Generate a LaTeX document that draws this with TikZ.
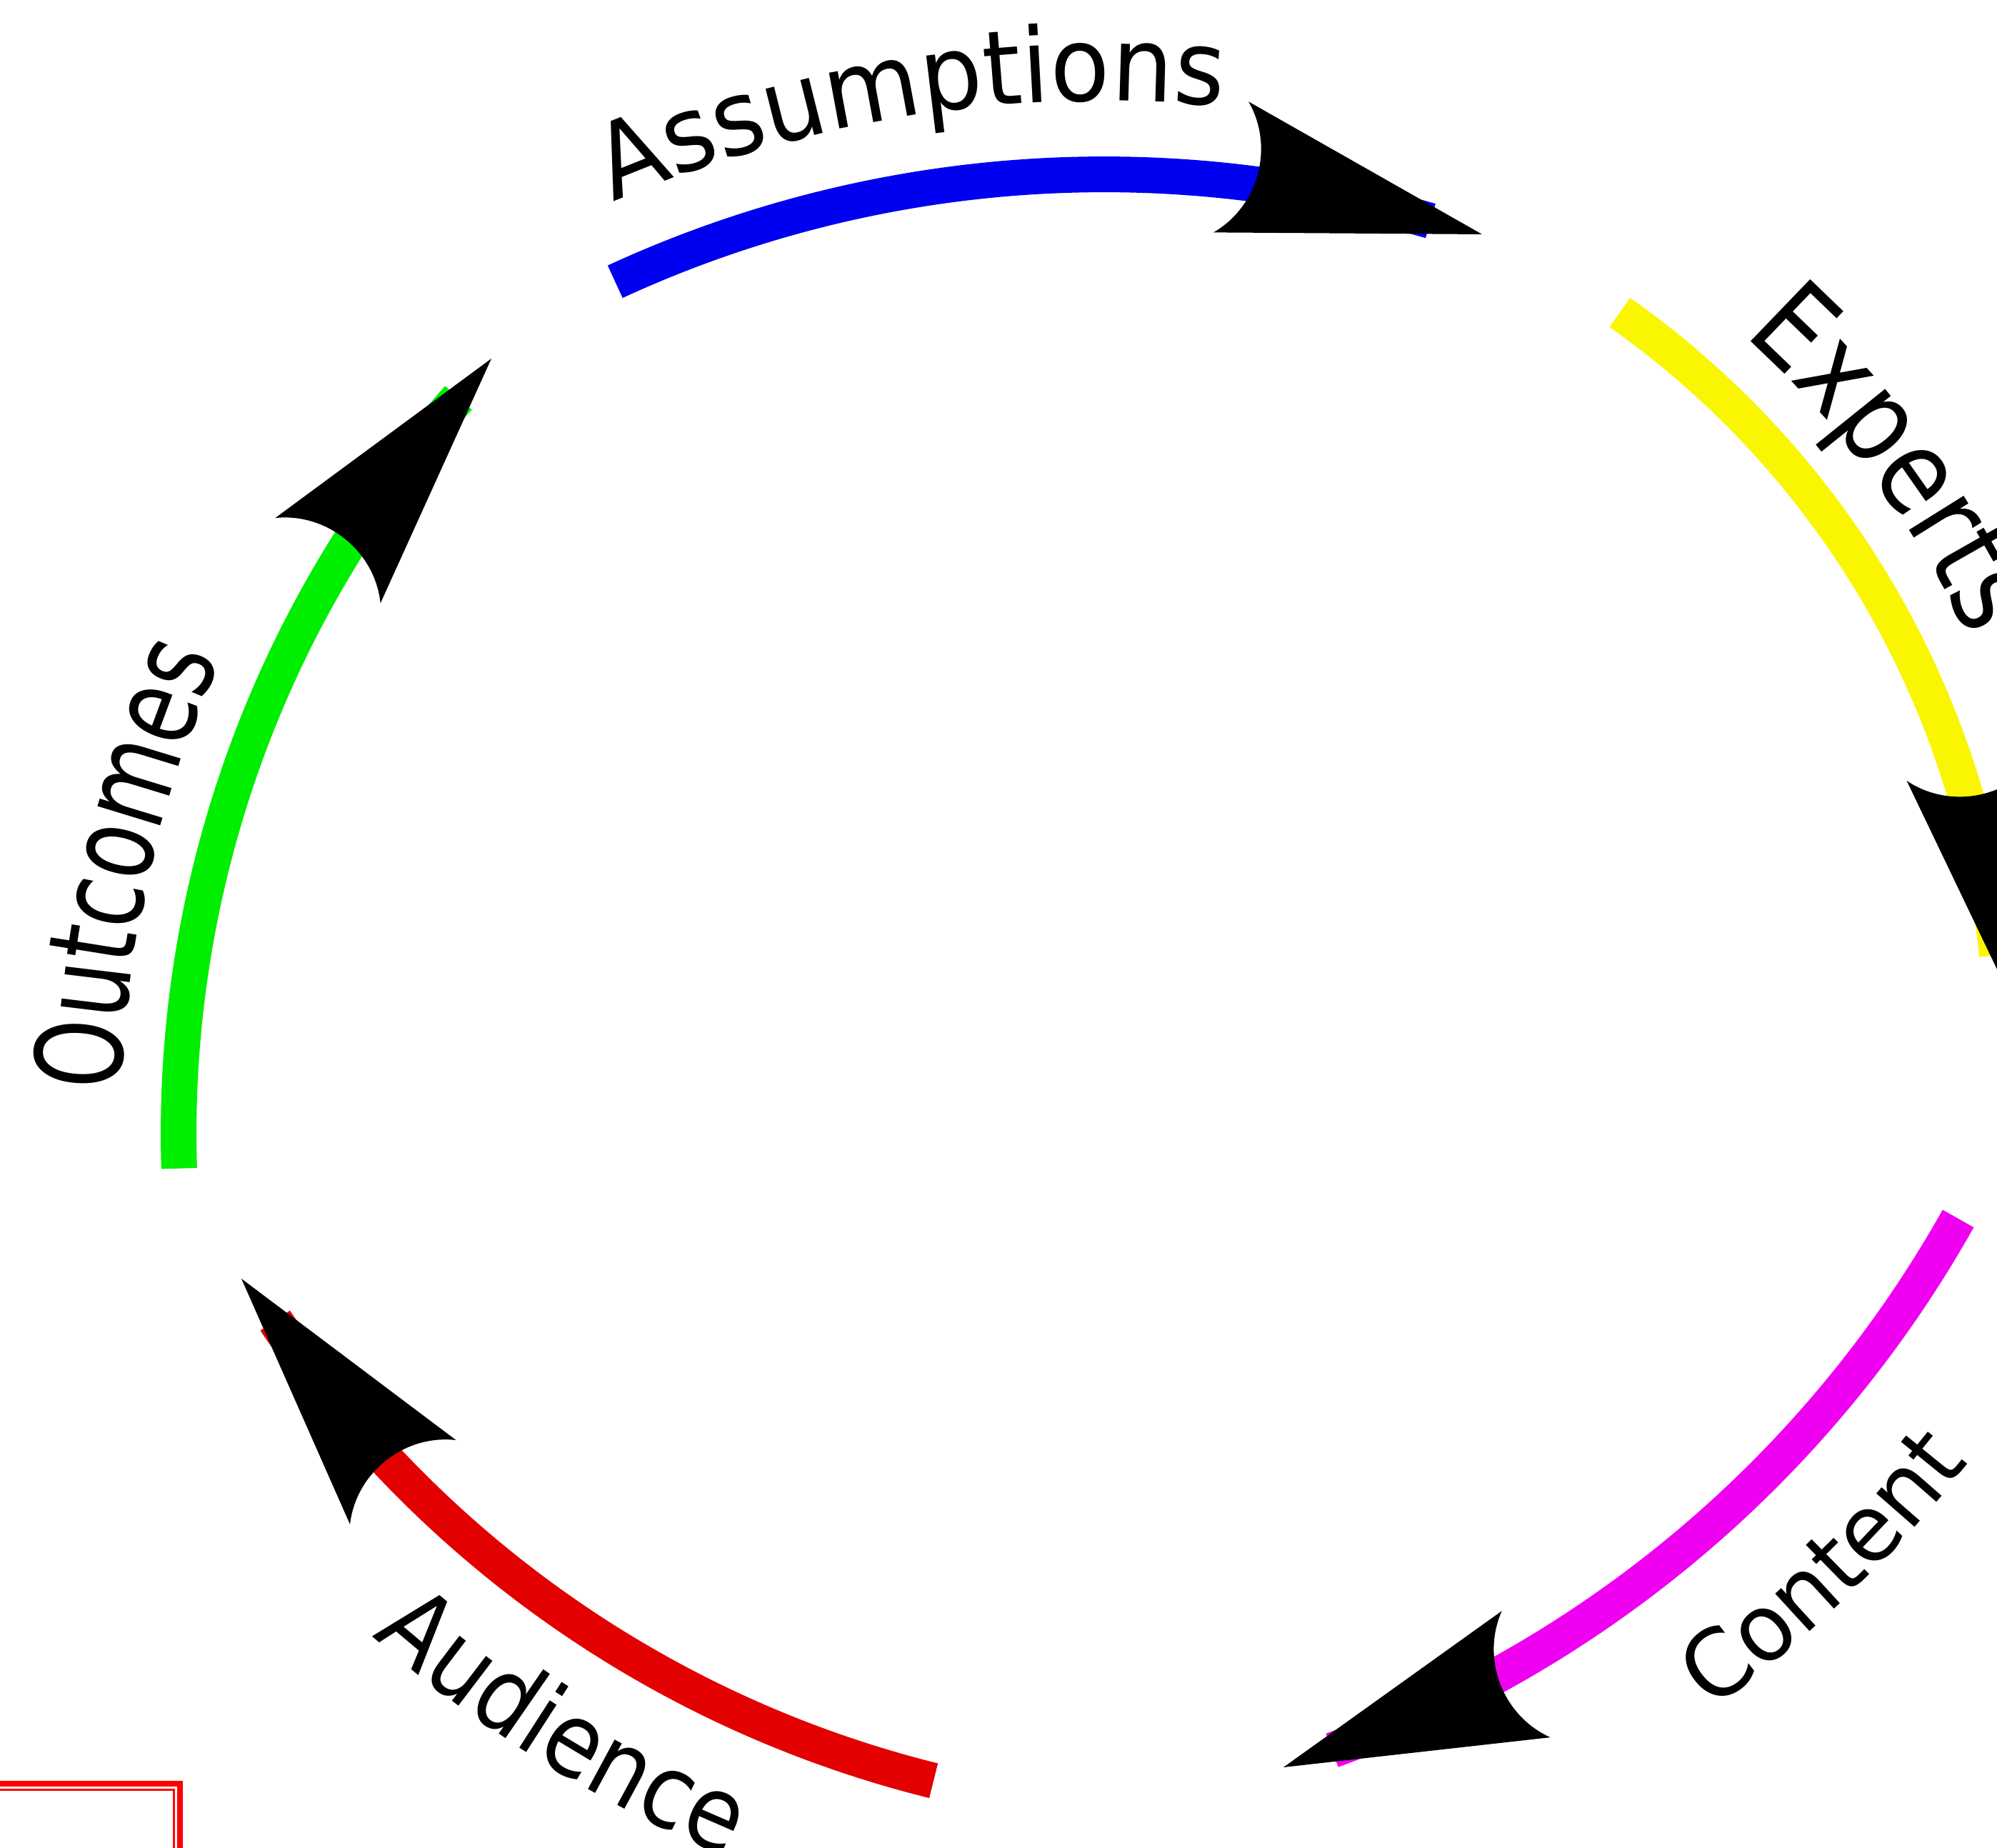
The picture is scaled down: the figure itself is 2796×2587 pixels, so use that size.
\documentclass[tikz,border=0pt]{standalone}
\usepackage{fontspec}
\setmainfont{DejaVu Sans}
\newfontfamily\fAss{DejaVu Sans}[FakeStretch=0.94]
\newfontfamily\fOut{DejaVu Sans}[FakeStretch=0.73]
\newfontfamily\fAud{DejaVu Sans}[FakeStretch=0.88]
\newfontfamily\fCon{DejaVu Sans}[FakeStretch=0.97]
\newfontfamily\fExp{DejaVu Sans}[FakeStretch=0.85]
\newcommand\lAss{\fAss\fontsize{36.25pt}{40pt}\selectfont}
\newcommand\lOut{\fOut\fontsize{42pt}{46pt}\selectfont}
\newcommand\lAud{\fAud\fontsize{36pt}{40pt}\selectfont}
\newcommand\lCon{\fCon\fontsize{32.5pt}{36pt}\selectfont}
\newcommand\lExp{\fExp\fontsize{41.25pt}{46pt}\selectfont}
\usetikzlibrary{calc,decorations.text}
\definecolor{cblue}{RGB}{0,0,240}
\definecolor{cgreen}{RGB}{0,238,0}
\definecolor{cyellow}{RGB}{250,245,0}
\definecolor{cmag}{RGB}{240,0,240}
\definecolor{cred}{RGB}{226,0,0}
\tikzset{
  arcline/.style={line width=12.5pt, line cap=butt},
  headfill/.style={fill=black},
  rimouter/.style={draw=red, line width=2pt},
  riminner/.style={draw=red, line width=0.75pt},
}
% arrowhead: #1 tip coordinate, #2 axis angle (pointing direction)
\newcommand\arrowhd[2]{%
  \fill[headfill] (#1) -- ($(#1)+({#2+194.6}:376)$)
    .. controls ($(#1)+({#2+194.6}:376)+({#2+45}:73)$)
            and ($(#1)+({#2+165.4}:376)+({#2-45}:73)$)
    .. ($(#1)+({#2+165.4}:376)$) -- cycle;}
\begin{document}
\begin{tikzpicture}[x=0.25pt,y=-0.25pt]
\useasboundingbox (0,0) rectangle (2796,2587);
\clip (0,0) rectangle (2796,2587);
\fill[white] (0,0) rectangle (2796,2587);

% circle centres of the arcs
\coordinate (cB) at (1546,1879);
\coordinate (cG) at (1800,1587);
\coordinate (cY) at (1541,1469);
\coordinate (cM) at (1299,895);
\coordinate (cR) at (1685,970);

% arrow tips
\coordinate (tB) at (2075,328);
\coordinate (tG) at (688,502);
\coordinate (tR) at (338,1790);
\coordinate (tM) at (1797,2474);
\coordinate (tY) at (2832,1432);

% coloured arcs
\draw[arcline, draw=cblue]   ($(cB)+(-114.76:1635)$) arc[start angle=-114.76, end angle=-73.77, radius=1635];
\draw[arcline, draw=cyellow] ($(cY)+(-54.83:1262)$) arc[start angle=-54.83, end angle=-6, radius=1262];
\draw[arcline, draw=cmag]    ($(cM)+(29.34:1655)$) arc[start angle=29.34, end angle=70.0, radius=1655];
\draw[arcline, draw=cred]    ($(cR)+(103.94:1569)$) arc[start angle=103.94, end angle=145.94, radius=1569];
\draw[arcline, draw=cgreen]  ($(cG)+(178.2:1550)$) arc[start angle=178.2, end angle=221.65, radius=1550];

% arrowheads
\arrowhd{tB}{15}
\arrowhd{tY}{79}
\arrowhd{tM}{159}
\arrowhd{tR}{-128.45}
\arrowhd{tG}{-51}

% labels along the arcs
\path[decorate, decoration={text along path, text={|\lAss|Assumptions}}]
  ($(cB)+(-113.3:1738)$) arc[start angle=-113.3, end angle=-78, radius=1738];
\path[decorate, decoration={text along path, text={|\lExp|Experts}}]
  ($(cY)+(-48.0:1345)$) arc[start angle=-48.0, end angle=-15, radius=1345];
\path[decorate, decoration={text along path, text={|\lCon|Content}}]
  ($(cM)+(53.8:1858)$) arc[start angle=53.8, end angle=30, radius=1858];
\path[decorate, decoration={text along path, text={|\lAud|Audience}}]
  ($(cR)+(131.4:1760)$) arc[start angle=131.4, end angle=105, radius=1760];
\path[decorate, decoration={text along path, text={|\lOut|Outcomes}}]
  ($(cG)+(182.1:1632)$) arc[start angle=182.1, end angle=210, radius=1632];

% red double frame in the lower left corner
\draw[rimouter] (-50,2497) rectangle (252,2700);
\draw[riminner] (-50,2505.5) rectangle (243.5,2700);
\end{tikzpicture}
\end{document}
